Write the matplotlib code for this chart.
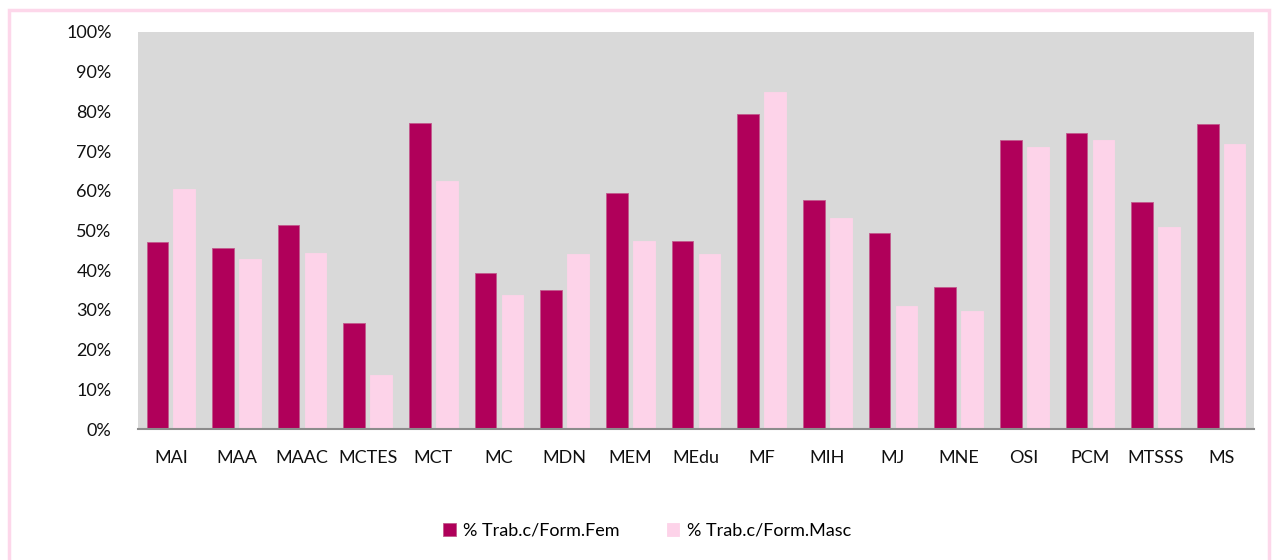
import numpy as np
import matplotlib.pyplot as plt
from matplotlib.patches import Rectangle
from matplotlib.ticker import PercentFormatter

plt.rcParams['font.family'] = ['Lato', 'DejaVu Sans']

ministerios = ['MAI', 'MAA', 'MAAC', 'MCTES', 'MCT', 'MC', 'MDN', 'MEM', 'MEdu',
               'MF', 'MIH', 'MJ', 'MNE', 'OSI', 'PCM', 'MTSSS', 'MS']
fem = [47.2, 45.7, 51.3, 26.6, 77.1, 39.2, 35.0, 59.4, 47.4,
       79.3, 57.6, 49.3, 35.8, 72.7, 74.5, 57.1, 76.7]
masc = [60.5, 42.8, 44.3, 13.5, 62.5, 33.8, 44.0, 47.4, 44.0,
        84.9, 53.1, 31.0, 29.6, 71.0, 72.9, 51.0, 71.9]

corFem = '#B0005A'
corMasc = '#FDD3E9'

fig = plt.figure(figsize=(12.74, 5.6), dpi=100)
ax = fig.add_axes([0.1083, 0.2339, 0.876, 0.709])

x = np.arange(len(ministerios))
ax.bar(x - 0.205, fem, width=0.33, color=corFem, edgecolor='#C25A8C', linewidth=0.6,
       label='% Trab.c/Form.Fem')
ax.bar(x + 0.205, masc, width=0.33, color=corMasc, edgecolor=corMasc, linewidth=0.6,
       label='% Trab.c/Form.Masc')

ax.set_facecolor('#D9D9D9')
ax.set_xlim(-0.5, len(ministerios) - 0.5)
ax.set_ylim(0, 100)
ax.set_yticks(np.arange(0, 101, 10))
ax.yaxis.set_major_formatter(PercentFormatter(decimals=0))
ax.set_xticks(x)
ax.set_xticklabels(ministerios)
ax.tick_params(axis='both', length=0, labelsize=13, colors='#111111')
ax.tick_params(axis='y', pad=19)
ax.tick_params(axis='x', pad=15)
for s in ['top', 'right', 'left']:
    ax.spines[s].set_visible(False)
ax.spines['bottom'].set_color('#8C8C8C')
ax.spines['bottom'].set_linewidth(1.5)

fig.legend(loc='center', bbox_to_anchor=(0.508, 0.052), ncol=2, frameon=False,
           fontsize=13, handlelength=0.7, handleheight=0.7, columnspacing=2.6,
           handletextpad=0.4)

# moldura rosa da figura
fig.patches.append(Rectangle((9 / 1274, -0.05), 1 - 14 / 1274, 1 - 9.5 / 560 + 0.05,
                             transform=fig.transFigure, fill=False,
                             edgecolor='#FDD7EA', linewidth=2.5))

fig.savefig('out.png', dpi=100)
